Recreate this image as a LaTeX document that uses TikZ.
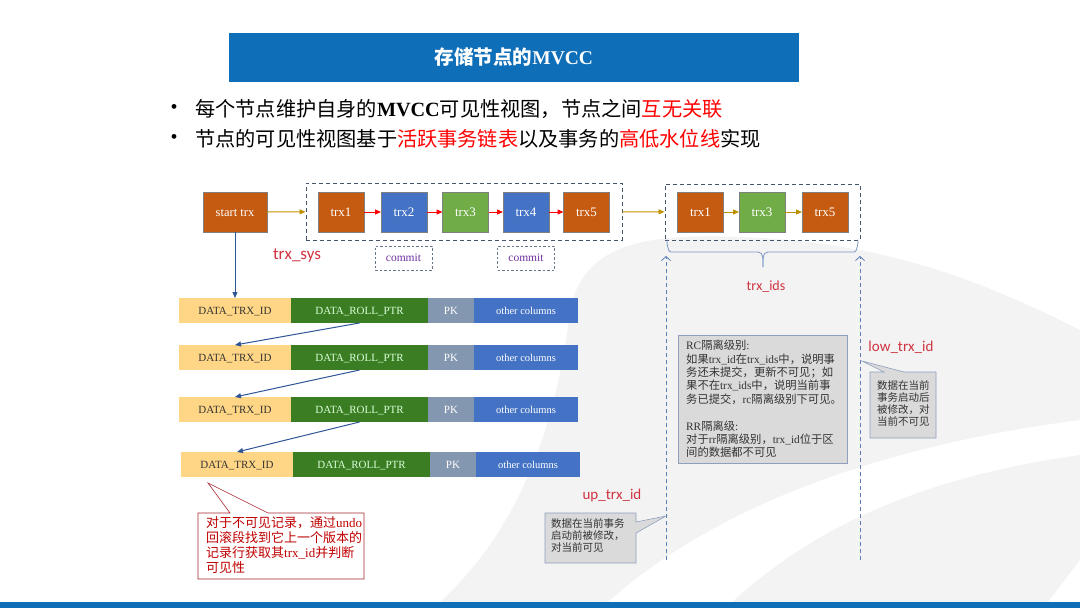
\documentclass[tikz,border=0pt]{standalone}
\usepackage{fontspec}
\setmainfont{Liberation Serif}
\newfontfamily\cjk{Noto Sans CJK SC}
\newfontfamily\calfont{Carlito}
\usetikzlibrary{arrows.meta,calc}
\definecolor{titleblue}{HTML}{0E6EB8}
\definecolor{orng}{HTML}{C55A11}
\definecolor{bblue}{HTML}{4472C4}
\definecolor{bgreen}{HTML}{70AD47}
\definecolor{olive}{HTML}{BF9000}
\definecolor{dashc}{HTML}{44546A}
\definecolor{peach}{HTML}{FFD685}
\definecolor{dgreen}{HTML}{3B7D23}
\definecolor{pkgray}{HTML}{8497B0}
\definecolor{navy}{HTML}{2F5597}
\definecolor{lblred}{HTML}{D0333F}
\definecolor{darkred}{HTML}{C00000}
\definecolor{purp}{HTML}{7030A0}
\definecolor{callgray}{HTML}{DADADA}
\definecolor{callbord}{HTML}{8EA0BE}
\definecolor{wm}{HTML}{F3F3F3}
\definecolor{vdash}{HTML}{5B7DB8}
\definecolor{txtdark}{HTML}{333333}
\newcommand\zh[1]{{\cjk #1}}
\begin{document}
\begin{tikzpicture}[x=1pt,y=-1pt,
  trxbox/.style={draw=black!50, line width=0.5pt, minimum width=46pt, minimum height=40pt,
    inner sep=0pt, outer sep=0pt, text=white, font=\fontsize{13}{15}\selectfont,
    text height=8.5pt, text depth=0pt},
  cell/.style={minimum height=25pt, inner sep=0pt, outer sep=0pt, anchor=west,
    font=\fontsize{11}{13}\selectfont, text height=7.4pt, text depth=0pt},
  redarr/.style={-{Triangle[length=6pt,width=5pt]}, red, line width=1pt},
  olarr/.style={-{Triangle[length=6pt,width=5pt]}, olive, line width=1pt},
  navarr/.style={-{Triangle[length=6pt,width=5pt]}, navy, line width=1pt},
  dashbox/.style={draw=dashc, line width=0.9pt, dash pattern=on 4pt off 3pt, inner sep=0pt},
  cmbox/.style={draw=dashc!80, line width=0.6pt, dash pattern=on 2.5pt off 2pt,
    minimum width=57pt, minimum height=24pt, inner sep=0pt, text=purp,
    font=\fontsize{11.5}{13}\selectfont},
  vdarrow/.style={draw=vdash, dash pattern=on 4pt off 3pt, line width=0.8pt,
    -{Straight Barb[length=4pt,width=9pt]}},
  lbl/.style={text=lblred, inner sep=0pt},
  graynote/.style={text=txtdark, align=left, inner sep=0pt, anchor=north west,
    font=\fontsize{10.5}{12.3}\selectfont},
]
\useasboundingbox (0,0) rectangle (1080,608);
\fill[white] (0,0) rectangle (1080,608);
% faint watermark
\fill[wm] (440,602) .. controls (530,520) and (560,400) .. (570,310)
  .. controls (585,240) and (650,232) .. (760,238)
  .. controls (900,245) and (1000,290) .. (1080,330) -- (1080,602) -- cycle;
\fill[white] (608,602) .. controls (700,520) and (850,450) .. (1080,420)
  -- (1080,455) .. controls (900,480) and (800,540) .. (732,602) -- cycle;
\fill[white] (1048,602) -- (1080,560) -- (1080,602) -- cycle;
% title
\node[fill=titleblue, minimum width=570pt, minimum height=49pt, inner sep=0pt, text=white,
  font=\fontsize{19.5}{21}\selectfont\bfseries] (title) at (514,57.5) {\zh{\bfseries 存储节点的}MVCC};
% bullets
\node[font=\fontsize{20}{22}\selectfont, inner sep=0pt] (bu1) at (174,109) {•};
\node[font=\fontsize{20}{22}\selectfont, inner sep=0pt] (bu2) at (174,139) {•};
\node[anchor=west, inner sep=0pt, font=\fontsize{20.2}{22}\selectfont] (ln1) at (195,109)
  {\zh{每个节点维护自身的}\textbf{MVCC}\zh{可见性视图，节点之间}\textcolor{red}{\zh{互无关联}}};
\node[anchor=west, inner sep=0pt, font=\fontsize{20.2}{22}\selectfont] (ln2) at (195,139)
  {\zh{节点的可见性视图基于}\textcolor{red}{\zh{活跃事务链表}}\zh{以及事务的}\textcolor{red}{\zh{高低水位线}}\zh{实现}};
% trx chain
\node[trxbox, fill=orng, minimum width=64pt, font=\fontsize{12.5}{14}\selectfont] (st) at (235,212) {start trx};
\node[dashbox, minimum width=316pt, minimum height=57pt] (db1) at (464,211.5) {};
\node[trxbox, fill=orng] (t1) at (341,212) {trx1};
\node[trxbox, fill=bblue] (t2) at (404,212) {trx2};
\node[trxbox, fill=bgreen] (t3) at (465.5,212) {trx3};
\node[trxbox, fill=bblue] (t4) at (526,212) {trx4};
\node[trxbox, fill=orng] (t5) at (586.5,212) {trx5};
\draw[redarr] (t1) -- (t2);
\draw[redarr] (t2) -- (t3);
\draw[redarr] (t3) -- (t4);
\draw[redarr] (t4) -- (t5);
\draw[olarr] (st) -- (db1);
\node[dashbox, minimum width=195pt, minimum height=56pt] (db2) at (762.5,212) {};
\node[trxbox, fill=orng] (u1) at (700.5,212) {trx1};
\node[trxbox, fill=bgreen] (u3) at (762,212) {trx3};
\node[trxbox, fill=orng] (u5) at (825,212) {trx5};
\draw[olarr] (db1) -- (db2);
\draw[olarr] (u1) -- (u3);
\draw[olarr] (u3) -- (u5);
\node[cmbox] (cm1) at (403.5,258) {commit};
\node[cmbox] (cm2) at (526,258) {commit};
\node[lbl, font=\calfont\fontsize{17}{19}\selectfont] (sys) at (297,255) {trx\_sys};
% brace
\draw[draw=vdash!80, line width=0.8pt] (667,242) to[out=90,in=180] (671,252) -- (758,252) to[out=0,in=90] (763,267);
\draw[draw=vdash!80, line width=0.8pt] (858,242) to[out=90,in=0] (854,252) -- (768,252) to[out=180,in=90] (763,267);
\node[lbl, font=\calfont\fontsize{14}{16}\selectfont] (ids) at (766,287) {trx\_ids};
% rows
\foreach \r/\yy/\xx in {1/310.5/179, 2/357.5/179, 3/409.5/179, 4/464.5/181}{
  \node[cell, fill=peach, text=txtdark, minimum width=112pt] (a\r) at (\xx,\yy) {DATA\_TRX\_ID};
  \node[cell, fill=dgreen, text=white!85!green, minimum width=137pt] (b\r) at (a\r.east) {DATA\_ROLL\_PTR};
  \node[cell, fill=pkgray, text=white, minimum width=46pt] (c\r) at (b\r.east) {PK};
  \node[cell, fill=bblue, text=white, minimum width=104pt, font=\fontsize{10.5}{12}\selectfont] (d\r) at (c\r.east) {other columns};
}
\draw[navarr] (st.south) -- (a1.north);
\draw[navarr] (b1.south) -- (a2.north);
\draw[navarr] (b2.south) -- (a3.north);
\draw[navarr] (b3.south) -- (a4.north);
% red callout
\draw[draw=lblred!80!black, fill=white, line width=0.6pt] (198,513) -- (230,513) -- (208,483) -- (268,513)
  -- (364,513) -- (364,579) -- (198,579) -- cycle;
\node[anchor=north west, inner sep=0pt, text=darkred, align=left, font=\fontsize{13}{15}\selectfont] (note1) at (206,516)
  {\zh{对于不可见记录，通过}undo\\\zh{回滚段找到它上一个版本的}\\\zh{记录行获取其}trx\_id\zh{并判断}\\\zh{可见性}};
% dashed vertical arrows
\coordinate (vl1) at (666,560);
\coordinate (vl2) at (666,256);
\coordinate (vr1) at (860,560);
\coordinate (vr2) at (860,256);
\draw[vdarrow] (vl1) -- (vl2);
\draw[vdarrow] (vr1) -- (vr2);
% RC box
\node[draw=callbord, fill=callgray, anchor=north west, text width=153pt, align=left,
  inner xsep=8pt, inner ysep=5pt, text=txtdark, font=\fontsize{11.3}{13.4}\selectfont] (rc) at (678,335)
  {RC\zh{隔离级别}:\\
   \zh{如果}trx\_id\zh{在}trx\_ids\zh{中，说明事}\\
   \zh{务还未提交，更新不可见；如}\\
   \zh{果不在}trx\_ids\zh{中，说明当前事}\\
   \zh{务已提交，}rc\zh{隔离级别下可见。}\\[13.4pt]
   RR\zh{隔离级}:\\
   \zh{对于}rr\zh{隔离级别，}trx\_id\zh{位于区}\\
   \zh{间的数据都不可见}};
% up_trx_id callout
\node[lbl, font=\calfont\fontsize{15}{17}\selectfont] (up) at (612,495) {up\_trx\_id};
\draw[draw=callbord, fill=callgray, line width=0.6pt] (545,513) -- (636,513) -- (636,522) -- (666,516)
  -- (636,533) -- (636,563) -- (545,563) -- cycle;
\node[graynote] (note2) at (551,518) {\zh{数据在当前事务}\\\zh{启动前被修改，}\\\zh{对当前可见}};
% low_trx_id callout
\node[lbl, font=\calfont\fontsize{15}{17}\selectfont] (low) at (901,347) {low\_trx\_id};
\draw[draw=callbord, fill=callgray, line width=0.6pt] (870,372) -- (884,372) -- (862,361) -- (904,372)
  -- (936,372) -- (936,438) -- (870,438) -- cycle;
\node[graynote] (note3) at (877,380) {\zh{数据在当前}\\\zh{事务启动后}\\\zh{被修改，对}\\\zh{当前不可见}};
% bottom bar
\fill[titleblue] (0,602) rectangle (1080,608);
\end{tikzpicture}
\end{document}
